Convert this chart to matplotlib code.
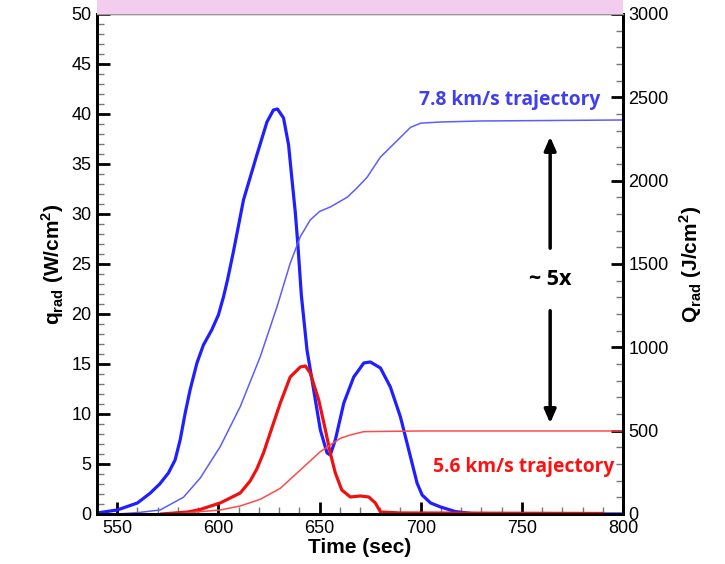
import numpy as np
import matplotlib.pyplot as plt
from matplotlib.patches import Rectangle
from matplotlib.ticker import MultipleLocator

plt.rcParams['font.family'] = ['Liberation Sans', 'DejaVu Sans']
plt.rcParams['mathtext.fontset'] = 'custom'
plt.rcParams['mathtext.rm'] = 'Liberation Sans'
plt.rcParams['mathtext.bf'] = 'Liberation Sans:bold'

# 7.8 km/s trajectory: heat flux q_rad (W/cm^2)
t_q78 = [540, 550, 560, 566.2, 571, 575.3, 578.6, 581.1, 583.6, 586, 589.4, 592.6, 596.7,
         600, 602.5, 604.5, 607.5, 612.4, 619, 624, 627.2, 629.2, 632.2, 634.7, 636.3,
         638, 639.3, 641, 643.8, 647.1, 650.4, 653.7, 655.3, 657.8, 662, 666.9, 671.9,
         675.1, 680.1, 685, 690, 694.1, 698.2, 700.7, 704.9, 709.8, 717, 725, 735, 800]
q78 = [0.1, 0.4, 1.1, 2.07, 3.0, 4.1, 5.4, 7.4, 10.1, 12.4, 15.1, 16.9, 18.4,
       19.9, 21.7, 23.4, 26.3, 31.4, 35.9, 39.2, 40.4, 40.5, 39.6, 36.9, 33.6,
       30.2, 26.9, 21.9, 16.4, 12.4, 8.4, 6.1, 5.9, 7.4, 11.1, 13.7, 15.1,
       15.2, 14.6, 12.7, 9.7, 6.4, 3.1, 1.9, 1.1, 0.7, 0.25, 0.05, 0, 0]

# 7.8 km/s trajectory: heat load Q_rad (J/cm^2)
t_Q78 = [550, 560, 571.2, 582.7, 591, 600.9, 610.8, 620.7, 629, 635.5, 640.5, 645.4,
         650, 655.3, 663.6, 668, 673.5, 680, 685, 690, 695, 700, 710, 730, 800]
Q78 = [0, 8, 24, 100, 215, 404, 644, 944, 1244, 1504, 1664, 1764,
       1815, 1842, 1900, 1950, 2020, 2140, 2200, 2260, 2320, 2345, 2352, 2358, 2364]

# 5.6 km/s trajectory: heat flux q_rad (W/cm^2)
t_q56 = [572, 585, 591, 600.9, 610.8, 615.7, 619, 622.3, 625.6, 628.1, 630.6, 635.5, 640.5,
         643, 645.4, 649.6, 652.9, 655.3, 657.8, 661, 665.2, 670.2, 674.3, 677.6, 680.1,
         690, 790]
q56 = [0, 0.2, 0.45, 1.1, 2.1, 3.3, 4.5, 6.1, 8.1, 9.6, 11.1, 13.7, 14.7,
       14.8, 14.1, 11.4, 8.4, 6.1, 4.1, 2.4, 1.7, 1.8, 1.7, 1.1, 0.2,
       0.1, 0.05]

# 5.6 km/s trajectory: heat load Q_rad (J/cm^2)
t_Q56 = [580, 591, 600.9, 610.8, 620.7, 630.6, 640.5, 650.4, 660.3, 665.2, 671.9,
         700, 800]
Q56 = [0, 14, 24, 48, 88, 154, 264, 374, 454, 474, 494, 498, 498]

blue = '#1f1fff'
red = '#ee1111'

fig = plt.figure(figsize=(7.25, 5.64), dpi=100)
ax = fig.add_axes([0.1338, 0.0887, 0.7255, 0.8865])
ax2 = ax.twinx()

ax.plot(t_q78, q78, color=blue, lw=2.3, zorder=3)
ax.plot(t_q56, q56, color=red, lw=2.3, zorder=3)
ax2.plot(t_Q78, Q78, color='#5c5cff', lw=1.1)
ax2.plot(t_Q56, Q56, color='#ff4a4a', lw=1.1)

ax.set_xlim(540, 800)
ax.set_ylim(0, 50)
ax2.set_ylim(0, 3000)

ax.xaxis.set_major_locator(MultipleLocator(50))
ax.xaxis.set_minor_locator(MultipleLocator(10))
ax.yaxis.set_major_locator(MultipleLocator(5))
ax.yaxis.set_minor_locator(MultipleLocator(1))
ax2.yaxis.set_major_locator(MultipleLocator(500))
ax2.yaxis.set_minor_locator(MultipleLocator(100))

for a in (ax, ax2):
    a.tick_params(which='major', direction='in', length=9, width=2, color='black',
                  labelsize=13, pad=4)
    a.tick_params(which='minor', direction='in', length=5, width=1, color='#777777')
    for s in ('left', 'right', 'bottom'):
        a.spines[s].set_linewidth(2)
    a.spines['top'].set_color('#999999')
    a.spines['top'].set_linewidth(1)
ax.tick_params(top=False, which='both')
ax2.tick_params(top=False, which='both')

ax.set_xlabel('Time (sec)', fontsize=15, fontweight='bold', labelpad=1)
ax.set_ylabel(r'q$_\mathbf{rad}$ (W/cm$^\mathbf{2}$)', fontsize=15, fontweight='bold', labelpad=4)
ax2.set_ylabel(r'Q$_\mathbf{rad}$ (J/cm$^\mathbf{2}$)', fontsize=15, fontweight='bold', labelpad=6)

ax.text(744, 41.4, '7.8 km/s trajectory', color='#3f3fee', fontsize=13.9,
        fontweight='bold', family=['Open Sans', 'DejaVu Sans'], ha='center', va='center')
ax.text(751, 4.7, '5.6 km/s trajectory', color='#ff1010', fontsize=13.9,
        fontweight='bold', family=['Open Sans', 'DejaVu Sans'], ha='center', va='center')

ax.annotate('', xy=(764, 38.0), xytext=(764, 26.3),
            arrowprops=dict(arrowstyle='-|>,head_length=0.8,head_width=0.35', color='black', lw=2.5))
ax.annotate('', xy=(764, 8.8), xytext=(764, 20.6),
            arrowprops=dict(arrowstyle='-|>,head_length=0.8,head_width=0.35', color='black', lw=2.5))
ax.text(764, 23.4, '~ 5x', fontsize=15.5, fontweight='bold', ha='center', va='center',
        family=['Open Sans', 'DejaVu Sans'])

# cropped pink title band at the top
fig.patches.append(Rectangle((0.1338, 0.9752), 0.7255, 0.0248, transform=fig.transFigure,
                             facecolor='#f2cdee', edgecolor='none', zorder=0))

fig.savefig('out.png', dpi=100)
